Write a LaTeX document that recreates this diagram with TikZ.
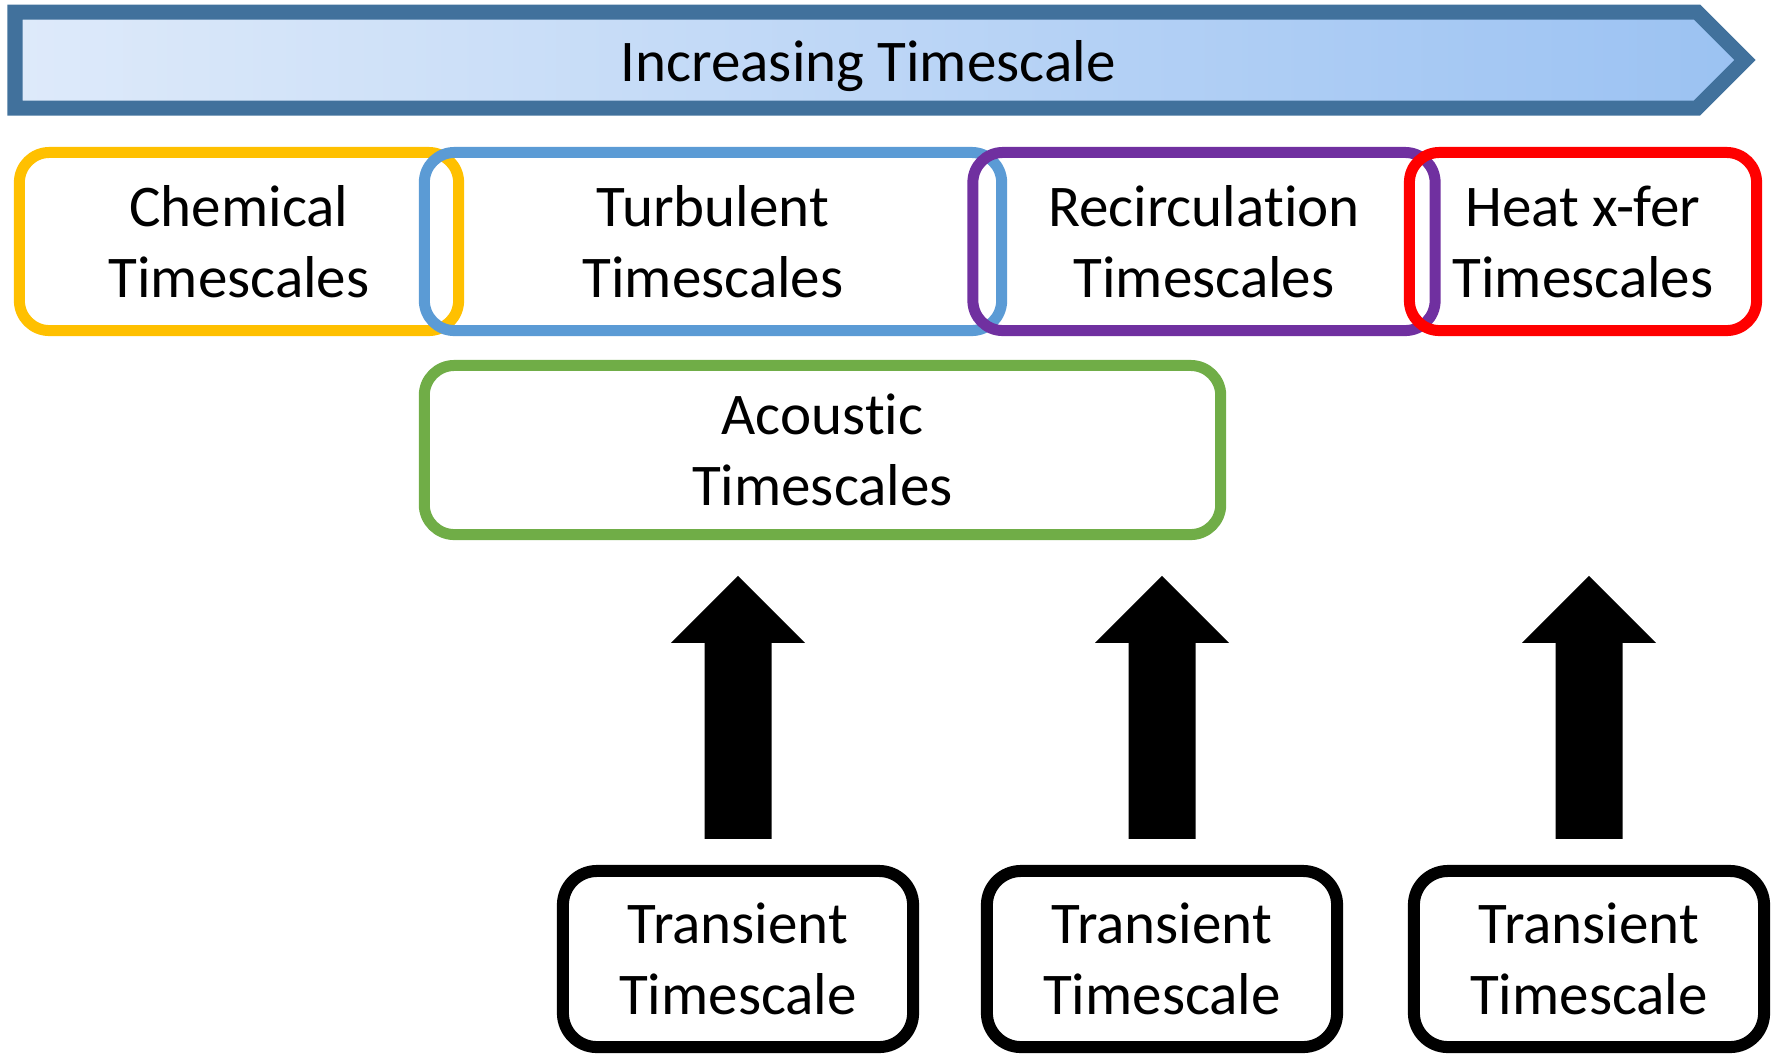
\documentclass[tikz,border=0pt]{standalone}
\usepackage{fontspec}
\setmainfont{Carlito}[Ligatures=NoCommon]
\usetikzlibrary{calc}
\definecolor{bannerline}{RGB}{65,113,156}
\definecolor{bannerleft}{RGB}{222,234,250}
\definecolor{bannerright}{RGB}{155,194,242}
\definecolor{chemcol}{RGB}{255,192,0}
\definecolor{turbcol}{RGB}{91,155,213}
\definecolor{recircol}{RGB}{112,48,160}
\definecolor{heatcol}{RGB}{255,0,0}
\definecolor{acoucol}{RGB}{112,173,71}
\tikzset{
  label text/.style={font=\fontsize{16.8}{20.2}\selectfont, align=center, text=black},
  % a taller first line drops the two-line labels slightly inside their boxes
  boxed text/.style={label text, execute at begin node={\rule{0pt}{#1}}},
  boxed text/.default=0.49cm,
  scalebox/.style={boxed text, draw=#1, line width=0.11cm, rounded corners=0.3cm,
    inner sep=0pt, outer sep=0pt},
  transbox/.style={boxed text=0.52cm, draw=black, line width=0.12cm, rounded corners=0.34cm,
    inner sep=0pt, outer sep=0pt, minimum width=3.5cm, minimum height=1.76cm},
}
% draws a black block arrow whose tip sits at the given coordinate
\newcommand{\blockarrow}[1]{%
  \fill[black] (#1) -- ++(67,67) -- ++(-33.5,0) -- ++(0,196) -- ++(-67,0)
    -- ++(0,-196) -- ++(-33.5,0) -- cycle;}
\begin{document}
\begin{tikzpicture}[x=0.01cm, y=-0.01cm]
\useasboundingbox (0,0) rectangle (1775,1053);

% timescale banner
\draw[bannerline, line width=0.15cm, line join=miter, left color=bannerleft, right color=bannerright]
  (15,12) -- (1697,12) -- (1745,60) -- (1697,108) -- (15,108) -- cycle;
\node[label text] (title) at (868,66) {Increasing Timescale};

% physical timescales
\node[scalebox=chemcol, minimum width=4.39cm, minimum height=1.78cm] (chem) at (239,241.5) {Chemical\\Timescales};
\node[scalebox=turbcol, minimum width=5.77cm, minimum height=1.78cm] (turb) at (713,241.5) {Turbulent\\Timescales};
\node[scalebox=recircol, minimum width=4.62cm, minimum height=1.78cm] (recirc) at (1204,241.5) {Recirculation\\Timescales};
\node[scalebox=heatcol, minimum width=3.47cm, minimum height=1.78cm] (heat) at (1583,241.5) {Heat x-fer\\Timescales};
\node[scalebox=acoucol, minimum width=7.96cm, minimum height=1.69cm] (acou) at (822.5,450) {Acoustic\\Timescales};

% transient timescales
\node[transbox] (t1) at (738,959) {Transient\\Timescale};
\node[transbox] (t2) at (1162,959) {Transient\\Timescale};
\node[transbox] (t3) at (1589,959) {Transient\\Timescale};

\coordinate (tip1) at ($(t1.north)+(0,-295)$);
\coordinate (tip2) at ($(t2.north)+(0,-295)$);
\coordinate (tip3) at ($(t3.north)+(0,-295)$);
\blockarrow{tip1}
\blockarrow{tip2}
\blockarrow{tip3}
\end{tikzpicture}
\end{document}
